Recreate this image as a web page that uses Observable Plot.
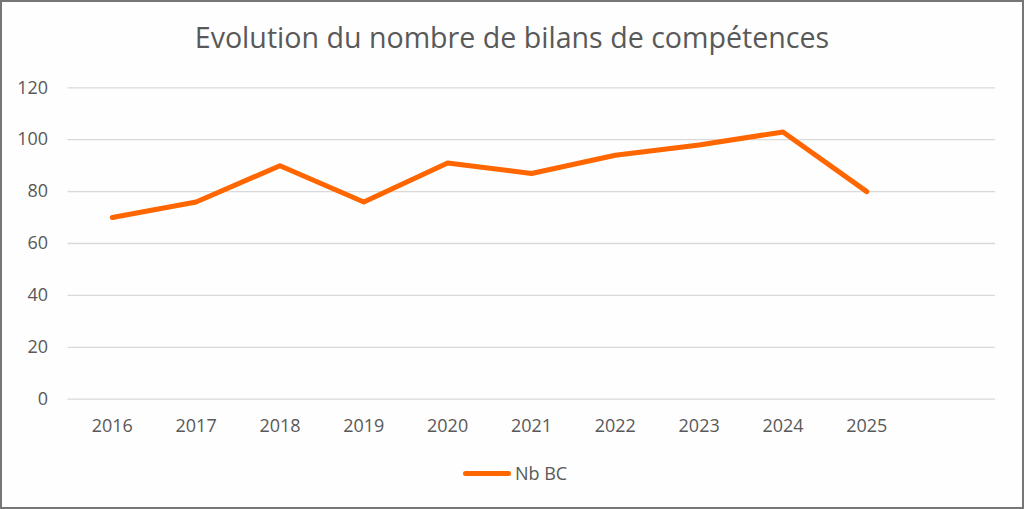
<!DOCTYPE html>
<html><head><meta charset="utf-8">
<script src="https://cdn.jsdelivr.net/npm/d3@7"></script>
<script src="https://cdn.jsdelivr.net/npm/@observablehq/plot@0.6"></script>
<style>
html,body{margin:0;padding:0;background:#fff;}
#wrap{position:relative;width:1024px;height:509px;box-sizing:border-box;border:2px solid #767676;background:#fefefe;overflow:hidden;font-family:"Open Sans",sans-serif;color:#595959;}
#title{position:absolute;left:0;right:0;top:15px;text-align:center;font-size:28.6px;color:#595959;white-space:nowrap;}
#chart{position:absolute;left:-2px;top:-2px;}
#legend{position:absolute;top:459px;left:461px;display:flex;align-items:center;font-size:18px;color:#595959;}
#legend .sw{width:48px;height:5px;border-radius:3px;background:#FF6600;margin-right:4px;}
</style></head>
<body><div id="wrap"><div id="title">Evolution du nombre de bilans de compétences</div><div id="chart"></div><div id="legend"><div class="sw"></div><span>Nb BC</span></div></div>
<script>
const years = ["2016","2017","2018","2019","2020","2021","2022","2023","2024","2025"];
const values = [70, 76, 90, 76, 91, 87, 94, 98, 103, 80];
const yTicks = [0, 20, 40, 60, 80, 100, 120];
const xDomain = [...years, " "];
const seriesName = "Nb BC";

const data = years.map((y, i) => ({year: y, value: values[i], series: seriesName}));

const chart = Plot.plot({
  width: 1024,
  height: 460,
  marginLeft: 67.7,
  marginRight: 27,
  marginTop: 87.5,
  marginBottom: 60.5,
  style: {fontFamily: "'Open Sans', sans-serif", fontSize: "18px", color: "#595959", background: "transparent", overflow: "visible"},
  x: {type: "point", domain: xDomain, padding: 0.5, label: null, tickSize: 0, tickPadding: 20},
  y: {domain: [0, 120], ticks: yTicks, label: null, tickSize: 0, tickPadding: 20},
  marks: [
    Plot.ruleY(yTicks, {stroke: "#d9d9d9", strokeWidth: 1.3, strokeOpacity: 1}),
    Plot.lineY(data, {x: "year", y: "value", stroke: "#FF6600", strokeWidth: 5, strokeLinecap: "round", strokeLinejoin: "round"})
  ]
});
document.getElementById("chart").appendChild(chart);
</script></body></html>
